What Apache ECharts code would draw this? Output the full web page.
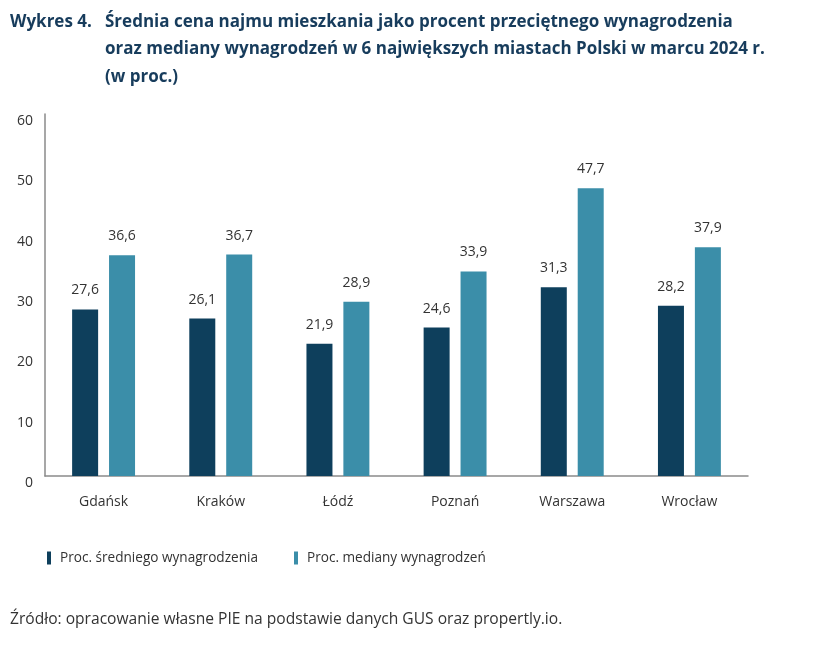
<!DOCTYPE html>
<html>
<head>
<meta charset="utf-8">
<script src="https://cdn.jsdelivr.net/npm/echarts@6/dist/echarts.min.js"></script>
<style>
  html, body { margin: 0; padding: 0; background: #fff; }
  #main { width: 833px; height: 651px; }
</style>
</head>
<body>
<div id="main"></div>
<script>
// dane z wykresu
var cities = ['Gdańsk', 'Kraków', 'Łódź', 'Poznań', 'Warszawa', 'Wrocław'];
var sredniego = [27.6, 26.1, 21.9, 24.6, 31.3, 28.2];
var mediany = [36.6, 36.7, 28.9, 33.9, 47.7, 37.9];
var seriesNames = ['Proc. średniego wynagrodzenia', 'Proc. mediany wynagrodzeń'];

var font = '"Open Sans", "Liberation Sans", sans-serif';
var textColor = '#333';

var myChart = echarts.init(document.getElementById('main'));

var labelFmt = function (p) { return String(p.value).replace('.', ','); };

var option = {
    textStyle: { fontFamily: font },
    title: [
        {
            text: 'Wykres 4.',
            left: 10, top: 8, padding: 0,
            textStyle: { fontFamily: font, fontSize: 17, fontWeight: 'bold', color: '#173c5c', lineHeight: 27.5 }
        },
        {
            text: 'Średnia cena najmu mieszkania jako procent przeciętnego wynagrodzenia\noraz mediany wynagrodzeń w 6 największych miastach Polski w marcu 2024 r.\n(w proc.)',
            left: 105, top: 8, padding: 0,
            textStyle: { fontFamily: font, fontSize: 17, fontWeight: 'bold', color: '#173c5c', lineHeight: 27.5 }
        },
        {
            text: 'Źródło: opracowanie własne PIE na podstawie danych GUS oraz propertly.io.',
            left: 10, top: 612, padding: 0,
            textStyle: { fontFamily: font, fontSize: 15.6, fontWeight: 'normal', color: textColor }
        }
    ],
    legend: {
        left: 42, top: 546,
        icon: 'rect',
        itemWidth: 4, itemHeight: 13,
        itemGap: 36,
        textStyle: { fontFamily: font, fontSize: 13.6, color: textColor, padding: [0, 0, 0, 4] },
        data: seriesNames
    },
    grid: { left: 45, right: 85, top: 114, bottom: 175, containLabel: false },
    xAxis: {
        type: 'category',
        data: cities,
        axisLine: { lineStyle: { color: '#8a8a8a', width: 1.5 } },
        axisTick: { show: false },
        axisLabel: { fontSize: 14, color: textColor, margin: 19 }
    },
    yAxis: {
        type: 'value',
        min: 0, max: 60, interval: 10,
        axisLine: { show: true, lineStyle: { color: '#8a8a8a', width: 1.5 } },
        axisTick: { show: false },
        splitLine: { show: false },
        axisLabel: { fontSize: 14, color: textColor, margin: 12, verticalAlign: 'top' }
    },
    series: [
        {
            name: seriesNames[0],
            type: 'bar',
            data: sredniego,
            barWidth: 26,
            barGap: '42%',
            itemStyle: { color: '#0e3f5c' },
            label: { show: true, position: 'top', distance: 12, fontSize: 14, color: textColor, formatter: labelFmt }
        },
        {
            name: seriesNames[1],
            type: 'bar',
            data: mediany,
            barWidth: 26,
            barGap: '42%',
            itemStyle: { color: '#3b8ea9' },
            label: { show: true, position: 'top', distance: 12, fontSize: 14, color: textColor, formatter: labelFmt }
        }
    ]
};

myChart.setOption(option);
</script>
</body>
</html>
